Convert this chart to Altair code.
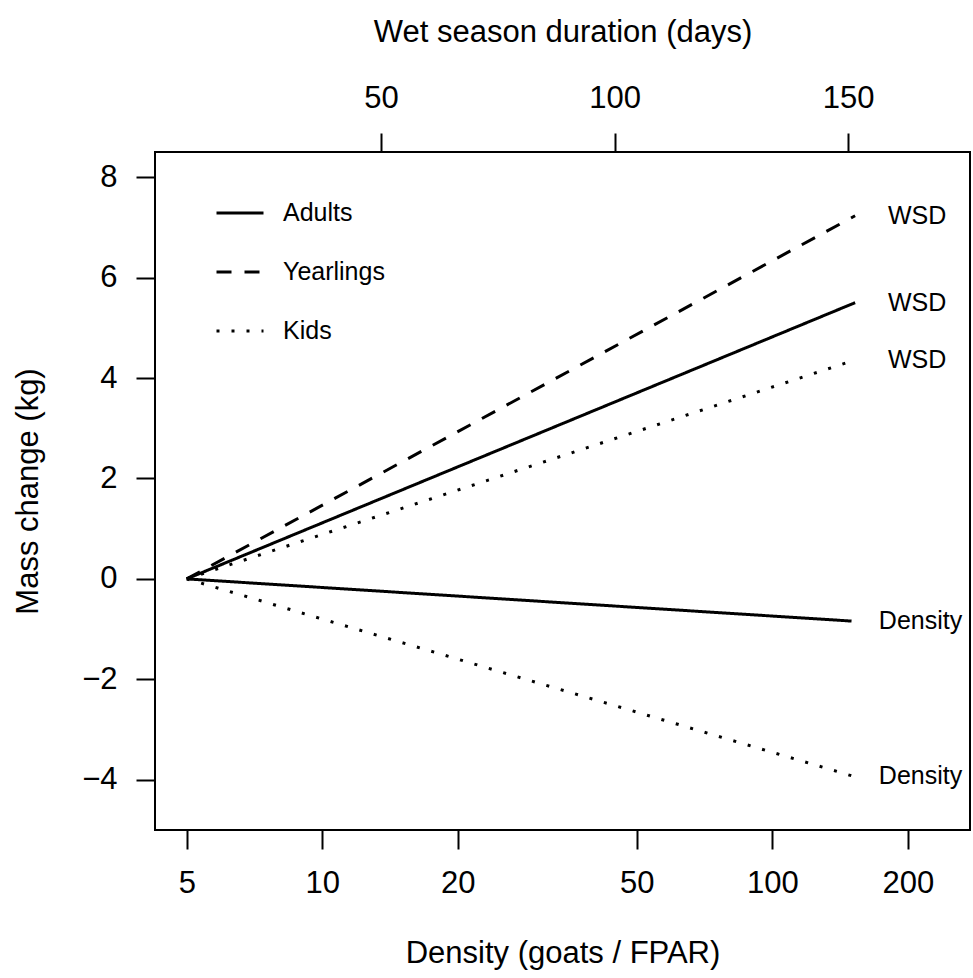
import altair as alt
import pandas as pd

FONT = "Liberation Sans"

groups = ["Adults", "Yearlings", "Kids"]
dash_patterns = [[1, 0], [15, 13], [3, 12]]

# Density effect lines (bottom log axis)
dens_groups = ["Adults", "Kids"]
dens_start = [5, 5]
dens_end = [150, 150]
dens_mass_start = [0.0, 0.0]
dens_mass_end = [-0.84, -3.92]

# Wet season duration lines (top linear axis)
wsd_groups = ["Adults", "Yearlings", "Kids"]
wsd_start = [8.4, 8.4, 8.4]
wsd_end = [151.5, 151.5, 151.5]
wsd_mass_start = [0.0, 0.0, 0.0]
wsd_mass_end = [5.50, 7.23, 4.36]

bottom_ticks = [5, 10, 20, 50, 100, 200]
top_ticks = [50, 100, 150]
y_ticks = [-4, -2, 0, 2, 4, 6, 8]

dens_rows = []
for g, x0, x1, y0, y1 in zip(dens_groups, dens_start, dens_end, dens_mass_start, dens_mass_end):
    dens_rows.append({"group": g, "density": x0, "mass": y0, "end": False, "label": "Density"})
    dens_rows.append({"group": g, "density": x1, "mass": y1, "end": True, "label": "Density"})
dens_df = pd.DataFrame(dens_rows)

wsd_rows = []
for g, x0, x1, y0, y1 in zip(wsd_groups, wsd_start, wsd_end, wsd_mass_start, wsd_mass_end):
    wsd_rows.append({"group": g, "wsd": x0, "mass": y0, "end": False, "label": "WSD"})
    wsd_rows.append({"group": g, "wsd": x1, "mass": y1, "end": True, "label": "WSD"})
wsd_df = pd.DataFrame(wsd_rows)

y_enc = alt.Y(
    "mass:Q",
    scale=alt.Scale(domain=[-5, 8.5], nice=False, zero=False),
    axis=alt.Axis(values=y_ticks, title="Mass change (kg)", titleX=-118,
                  titleBaseline="alphabetic", labelPadding=19),
)

dash_enc = alt.StrokeDash(
    "group:N",
    scale=alt.Scale(domain=groups, range=dash_patterns),
    legend=alt.Legend(
        title=None, orient="none", legendX=60, legendY=36,
        symbolType="stroke", symbolSize=2209, symbolStrokeWidth=3,
        symbolStrokeColor="black", labelFontSize=25, labelFont=FONT,
        labelColor="black", labelOffset=18, rowPadding=21, padding=0,
    ),
)

x_dens = alt.X(
    "density:Q",
    scale=alt.Scale(type="log", domain=[4.25, 275], nice=False),
    axis=alt.Axis(orient="bottom", values=bottom_ticks, title="Density (goats / FPAR)",
                  format="d", titleY=132, titleBaseline="alphabetic", labelPadding=19),
)

x_wsd = alt.X(
    "wsd:Q",
    scale=alt.Scale(domain=[1.61, 176.1], nice=False, zero=False),
    axis=alt.Axis(orient="top", values=top_ticks, title="Wet season duration (days)",
                  format="d", titleY=-111, titleBaseline="alphabetic", labelPadding=19),
)

dens_lines = alt.Chart(dens_df).mark_line(color="black", strokeWidth=3, strokeCap="butt").encode(
    x=x_dens, y=y_enc, strokeDash=dash_enc, detail="group:N"
)
dens_text = alt.Chart(dens_df).transform_filter("datum.end").mark_text(
    align="center", baseline="middle", dx=69, fontSize=25, font=FONT, color="black"
).encode(x=x_dens, y=y_enc, text="label:N")

wsd_lines = alt.Chart(wsd_df).mark_line(color="black", strokeWidth=3, strokeCap="butt").encode(
    x=x_wsd, y=y_enc, strokeDash=dash_enc, detail="group:N"
)
wsd_text = alt.Chart(wsd_df).transform_filter("datum.end").mark_text(
    align="center", baseline="middle", dx=62, fontSize=25, font=FONT, color="black"
).encode(x=x_wsd, y=y_enc, text="label:N")

chart = alt.layer(
    alt.layer(dens_lines, dens_text),
    alt.layer(wsd_lines, wsd_text),
).resolve_scale(x="independent").properties(
    width=815, height=678,
    autosize=alt.AutoSizeParams(type="none"),
    padding={"left": 155, "top": 152, "right": 3, "bottom": 148},
    background="white",
).configure_view(
    stroke="black", strokeWidth=2
).configure_axis(
    grid=False, domain=False, tickColor="black", tickWidth=2, tickSize=19,
    labelFont=FONT, labelFontSize=31, labelColor="black",
    titleFont=FONT, titleFontSize=31, titleFontWeight="normal", titleColor="black",
    labelFlush=False, labelOverlap=False,
)

chart.save("out.html", embed_options={"renderer": "svg", "actions": False})
